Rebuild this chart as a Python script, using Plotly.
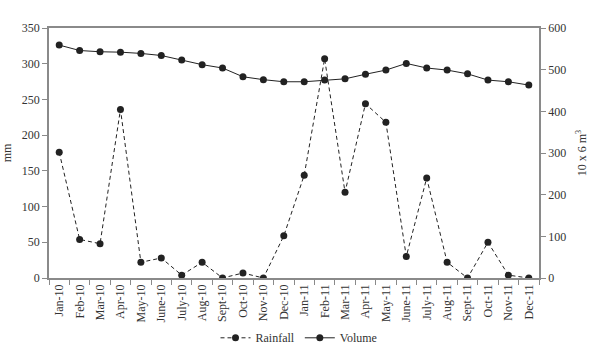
import plotly.graph_objects as go

months = ["Jan-10","Feb-10","Mar-10","Apr-10","May-10","June-10","July-10","Aug-10","Sept-10","Oct-10","Nov-10","Dec-10",
          "Jan-11","Feb-11","Mar-11","Apr-11","May-11","June-11","July-11","Aug-11","Sept-11","Oct-11","Nov-11","Dec-11"]
rainfall = [176, 54, 48, 236, 22, 28, 4, 22, 0, 7, 0, 59,
            144, 307, 120, 244, 218, 30, 140, 22, 0, 50, 4, 0]
volume = [559, 546, 543, 542, 539, 534, 523, 512, 504, 483, 476, 471,
          471, 475, 478, 489, 499, 515, 504, 499, 490, 475, 471, 463]

font = "Liberation Serif"
dark = "#222222"
axc = "#8a8a8a"

fig = go.Figure()
fig.add_trace(go.Scatter(x=months, y=rainfall, name="Rainfall", mode="lines+markers",
                         line=dict(color=dark, width=1, dash="4px,3px"),
                         marker=dict(color=dark, size=7), yaxis="y"))
fig.add_trace(go.Scatter(x=months, y=volume, name="Volume", mode="lines+markers",
                         line=dict(color=dark, width=1),
                         marker=dict(color=dark, size=7), yaxis="y2"))

fig.update_layout(
    width=598, height=344,
    margin=dict(l=49, r=59, t=28, b=66, autoexpand=False),
    paper_bgcolor="white", plot_bgcolor="white",
    font=dict(family=font, size=12, color="#333333"),
    showlegend=True,
    legend=dict(orientation="h", x=0.5, xanchor="center", xref="container",
                y=0.018, yanchor="middle", yref="container",
                font=dict(size=12, family=font), bgcolor="rgba(0,0,0,0)"),
    xaxis=dict(type="category", range=[-0.5, 23.5], showline=True, linecolor=axc, linewidth=1.5,
               mirror=True, ticks="outside", tickson="boundaries", ticklen=5, tickcolor=axc,
               tickangle=-90, showgrid=False, zeroline=False, tickfont=dict(size=12, family=font)),
    yaxis=dict(range=[0, 350], dtick=50, showline=True, linecolor=axc, linewidth=1.5,
               ticks="outside", ticklen=5, tickcolor=axc, showgrid=False, zeroline=False,
               title=dict(text="mm", standoff=8, font=dict(size=12, family=font)),
               tickfont=dict(size=12, family=font)),
    yaxis2=dict(range=[0, 600], dtick=100, overlaying="y", side="right", showline=True,
                linecolor=axc, linewidth=1.5, ticks="outside", ticklen=5, tickcolor=axc,
                showgrid=False, zeroline=False,
                title=dict(text="10 x 6 m<sup>3</sup>", standoff=12, font=dict(size=12, family=font)),
                tickfont=dict(size=12, family=font)),
)

fig.write_html("out.html")
